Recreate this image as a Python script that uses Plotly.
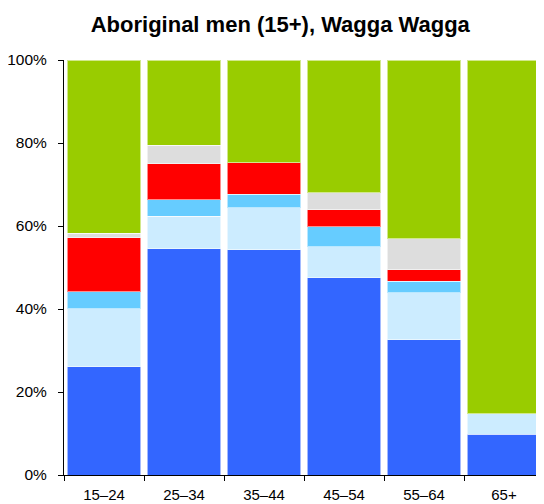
import plotly.graph_objects as go

age_groups = ["15–24", "25–34", "35–44", "45–54", "55–64", "65+"]

# Stacked shares (%) from bottom to top
seg1 = [26.1, 54.5, 54.3, 47.5, 32.6, 9.8]
seg2 = [14.0, 7.9, 10.1, 7.5, 11.3, 5.0]
seg3 = [4.1, 3.9, 3.2, 4.8, 2.8, 0.0]
seg4 = [13.0, 8.7, 7.6, 4.1, 2.7, 0.0]
seg5 = [1.1, 4.4, 0.0, 4.1, 7.5, 0.0]
seg6 = [41.7, 20.6, 24.8, 32.0, 43.1, 85.2]

series = [
    ("Segment 1", seg1, "#3366FF"),
    ("Segment 2", seg2, "#CCECFF"),
    ("Segment 3", seg3, "#66CCFF"),
    ("Segment 4", seg4, "#FF0000"),
    ("Segment 5", seg5, "#DDDDDD"),
    ("Segment 6", seg6, "#99CC00"),
]

fig = go.Figure()
for name, vals, col in series:
    fig.add_trace(go.Bar(
        x=age_groups, y=vals, name=name,
        marker=dict(color=col, line=dict(color="rgba(255,255,255,0.55)", width=1)),
    ))

# the page adds an 8px body margin, so the figure is sized to fit the 544x504 window
fig.update_layout(
    barmode="stack",
    bargap=0.085,
    width=536, height=496,
    margin=dict(l=56, r=0, t=52, b=29),
    plot_bgcolor="white", paper_bgcolor="white",
    showlegend=False,
    font=dict(family="Liberation Sans, Arial, sans-serif", size=15, color="black"),
    title=dict(text="<b>Aboriginal men (15+), Wagga Wagga</b>", x=0.508, xanchor="center",
               y=0.968, yanchor="middle", font=dict(size=22, color="black")),
)
fig.update_yaxes(
    range=[0, 100], tickvals=[0, 20, 40, 60, 80, 100], ticktext=["0%", "20%", "40%", "60%", "80%", "100%"],
    showline=True, linecolor="black", linewidth=1, ticks="outside", ticklen=5, tickcolor="black",
    showgrid=False, zeroline=False, tickfont=dict(size=15.5), automargin=False,
    ticklabelstandoff=8,
)
fig.update_xaxes(
    showline=True, linecolor="black", linewidth=1, ticks="outside", ticklen=5, tickcolor="black",
    tickson="boundaries", showgrid=False, tickfont=dict(size=15), automargin=False,
    ticklabelstandoff=6,
)

fig.write_html("out.html")
